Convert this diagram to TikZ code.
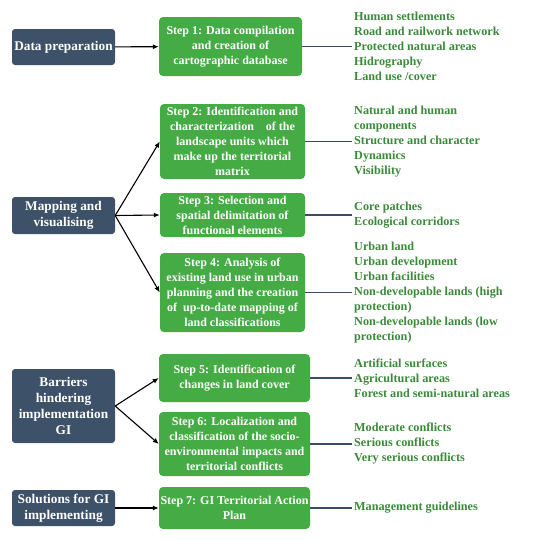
\documentclass[tikz,border=0pt]{standalone}
\usepackage{fontspec}
\setmainfont{Liberation Serif}
\usetikzlibrary{arrows.meta}
\definecolor{phasecol}{HTML}{3D5169}
\definecolor{stepcol}{HTML}{45AB45}
\definecolor{itemcol}{HTML}{3A8A3A}
\definecolor{linkcol}{HTML}{3A4D66}
\tikzset{
  phase/.style={draw=none, fill=phasecol, rounded corners=3pt, text=white, align=center,
    font=\bfseries\fontsize{13.3}{16}\selectfont, minimum width=103pt, inner sep=2pt},
  stepbox/.style={draw=none, fill=stepcol, rounded corners=4pt, text=white, align=center,
    font=\bfseries\fontsize{12}{15}\selectfont, inner sep=1pt},
  itemlist/.style={anchor=west, align=left, text=itemcol,
    font=\bfseries\fontsize{12.2}{15}\selectfont, inner sep=2pt},
  arr/.style={-{Latex[length=6pt,width=5pt]}, line width=1.1pt, black},
  link/.style={line width=1.2pt, linkcol}
}
\begin{document}
\begin{tikzpicture}[x=1pt, y=-1pt]
\useasboundingbox (0,0) rectangle (550,541);

\node[phase, minimum height=36pt] (prep) at (63.5,47) {Data preparation};
\node[phase, minimum height=37pt] (mapping) at (63.5,215.5) {Mapping and\\visualising};
\node[phase, minimum height=74pt] (barriers) at (63.5,406) {Barriers\\hindering\\implementation\\GI};
\node[phase, minimum height=36pt] (solutions) at (63.5,508) {Solutions for GI\\implementing};

\node[stepbox, minimum width=143pt, minimum height=59pt] (step1) at (230.5,46.5) {Step 1: Data compilation\\and creation of\\cartographic database};
\node[stepbox, minimum width=145pt, minimum height=75pt] (step2) at (232.5,141.5) {Step 2: Identification and\\characterization\ \ \ \ of the\\landscape units which\\make up the territorial\\matrix};
\node[stepbox, minimum width=145pt, minimum height=44pt] (step3) at (232.5,215) {Step 3: Selection and\\spatial delimitation of\\functional elements};
\node[stepbox, minimum width=145pt, minimum height=79pt] (step4) at (232.5,292.5) {Step 4: Analysis of\\existing land use in urban\\planning and the creation\\of\ \ up-to-date mapping of\\land classifications};
\node[stepbox, minimum width=151pt, minimum height=48pt] (step5) at (234.5,378) {Step 5: Identification of\\changes in land cover};
\node[stepbox, minimum width=151pt, minimum height=64pt] (step6) at (234.5,444) {Step 6: Localization and\\classification of the socio-\\environmental impacts and\\territorial conflicts};
\node[stepbox, minimum width=151pt, minimum height=42pt] (step7) at (234.5,508) {Step 7: GI Territorial Action\\Plan};

\node[itemlist] (items1) at (352,46.5) {Human settlements\\Road and railwork network\\Protected natural areas\\Hidrography\\Land use /cover};
\node[itemlist] (items2) at (352,141.5) {Natural and human\\components\\Structure and character\\Dynamics\\Visibility};
\node[itemlist] (items3) at (352,215) {Core patches\\Ecological corridors};
\node[itemlist] (items4) at (352,292.5) {Urban land\\Urban development\\Urban facilities\\Non-developable lands (high\\protection)\\Non-developable lands (low\\protection)};
\node[itemlist] (items5) at (352,378) {Artificial surfaces\\Agricultural areas\\Forest and semi-natural areas};
\node[itemlist] (items6) at (352,444) {Moderate conflicts\\Serious conflicts\\Very serious conflicts};
\node[itemlist] (items7) at (352,508) {Management guidelines};

\draw[arr] (prep) -- (step1);
\draw[arr] (mapping.east) -- (step2.west);
\draw[arr] (mapping.east) -- (step3.west);
\draw[arr] (mapping.east) -- (step4.west);
\draw[arr] (barriers.east) -- (step5.west);
\draw[arr] (barriers.east) -- (step6.west);
\draw[arr] (solutions) -- (step7);

\draw[link] (step1.east) -- (items1.west);
\draw[link] (step2.east) -- (items2.west);
\draw[link] (step3.east) -- (items3.west);
\draw[link] (step4.east) -- (items4.west);
\draw[link] (step5.east) -- (items5.west);
\draw[link] (step6.east) -- (items6.west);
\draw[link] (step7.east) -- (items7.west);
\end{tikzpicture}
\end{document}
